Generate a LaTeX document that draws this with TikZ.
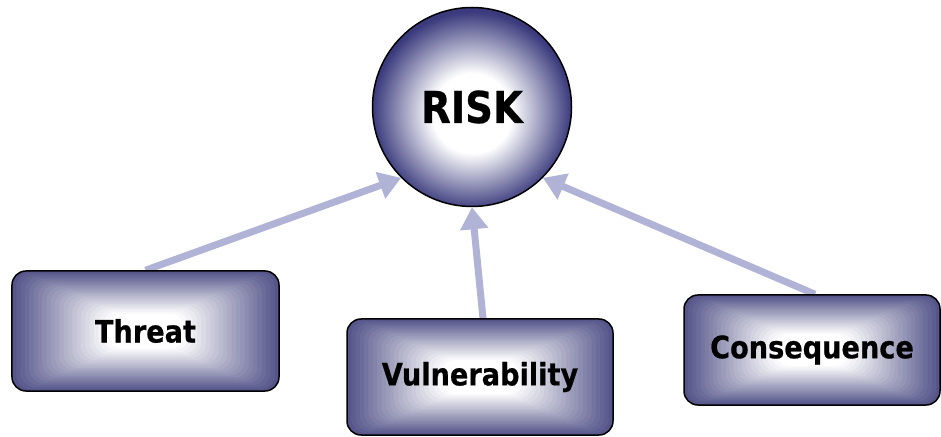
\documentclass[tikz,border=0pt]{standalone}
\usepackage{fontspec}
\setmainfont{DejaVu Sans}[FakeStretch=0.88, BoldFeatures={FakeBold=0.6}]
\usetikzlibrary{arrows.meta,calc,backgrounds}

\definecolor{riskblue}{RGB}{58,58,125}
\definecolor{boxblue}{RGB}{85,85,138}
\definecolor{arrowblue}{RGB}{176,178,214}

\pgfdeclareradialshading{riskball}{\pgfpoint{0bp}{-2bp}}{color(0bp)=(white); color(10bp)=(white); color(25bp)=(riskblue); color(50bp)=(riskblue)}

\tikzset{
    riskcircle/.style={circle, draw=black, line width=1.5bp, shading=riskball,
        minimum size=199bp, inner sep=0pt, font=\fontsize{44}{44}\selectfont\bfseries},
    factorbox/.style={draw=black, line width=1.5bp, rounded corners=14bp, inner sep=0pt,
        font=\fontsize{31}{31}\selectfont\bfseries,
        path picture={
            \foreach \k [evaluate=\k as \mix using {max(0,100-\k*4.6)}] in {0,...,29}
                \fill[boxblue!\mix!white]
                    ($(path picture bounding box.south west)!\k/62!(path picture bounding box.north east)$)
                    rectangle
                    ($(path picture bounding box.north east)!\k/62!(path picture bounding box.south west)$);
        }},
    arrowlink/.style={draw=arrowblue, line width=7bp, -{Triangle[length=22bp,width=27bp]}}
}

\begin{document}
\begin{tikzpicture}[x=1bp,y=-1bp]
    \useasboundingbox (0,0) rectangle (941,437);

    \node[riskcircle] (risk) at (472,107) {RISK};
    \node[factorbox, minimum width=267bp, minimum height=120bp] (threat) at (145.5,331) {Threat};
    \node[factorbox, minimum width=266bp, minimum height=116bp] (vuln) at (480,377) {Vulnerability};
    \node[factorbox, minimum width=256bp, minimum height=110bp] (cons) at (812,350) {Consequence};

    \begin{scope}[on background layer]
        \draw[arrowlink] (threat.north) -- (risk.225);
        \draw[arrowlink] ([xshift=3bp]vuln.north) -- (risk.270);
        \draw[arrowlink] ([xshift=3bp]cons.north) -- (risk.315);
    \end{scope}
\end{tikzpicture}
\end{document}
